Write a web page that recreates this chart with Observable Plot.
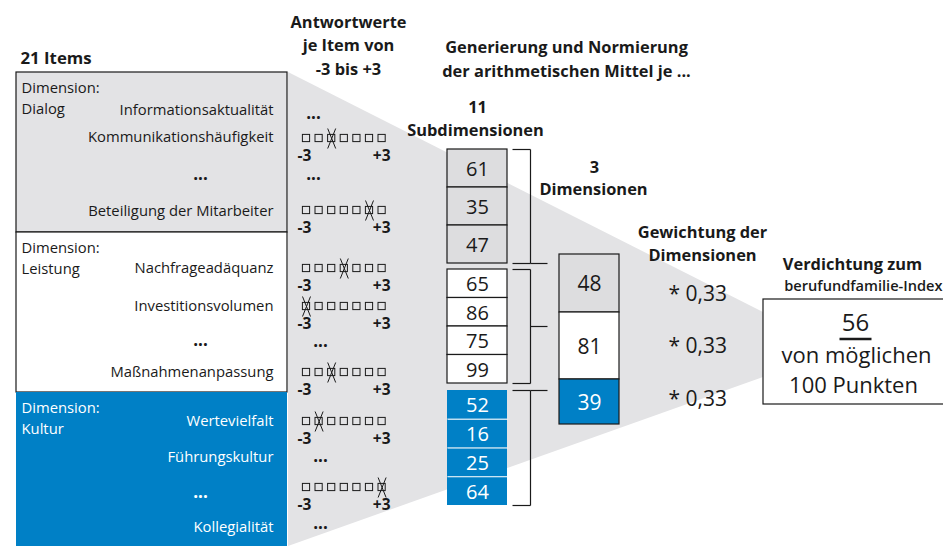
<!DOCTYPE html>
<html><head><meta charset="utf-8">
<script src="https://cdn.jsdelivr.net/npm/d3@7"></script>
<script src="https://cdn.jsdelivr.net/npm/@observablehq/plot@0.6"></script>
<style>html,body{margin:0;padding:0;background:#fff;}</style>
</head><body><div id="chart"></div>
<script>
// ---------- DATA ----------
const dimensions = ["Dialog", "Leistung", "Kultur"];
const itemLabels = [
  ["Informationsaktualität", "Kommunikationshäufigkeit", "...", "Beteiligung der Mitarbeiter"],
  ["Nachfrageadäquanz", "Investitionsvolumen", "...", "Maßnahmenanpassung"],
  ["Wertevielfalt", "Führungskultur", "...", "Kollegialität"]
];
// answers on the -3..+3 scale (null = "...")
const answers = [
  [null, -1, null, 2],
  [0, -3, null, -1],
  [-2, null, 3, null]
];
const scaleValues = [-3, -2, -1, 0, 1, 2, 3];
const subdimScores = [[61, 35, 47], [65, 86, 75, 99], [52, 16, 25, 64]];
const dimensionScores = [48, 81, 39];
const weights = ["0,33", "0,33", "0,33"];
const indexValue = 56;
const maxPoints = 100;

// ---------- LAYOUT / STYLE ----------
const W = 943, H = 546;
const BLUE = "#0080c6", GRAY = "#e3e3e5", BOXGRAY = "#dddddf", INK = "#1a1a1a";
const FONT = "Open Sans";
const HS = 16.4; // header font size
const LS = 14.8; // left panel font size
const sectFill = [GRAY, "#ffffff", BLUE];
const sectText = [INK, INK, "#ffffff"];
const sectY = [[72, 232], [232, 392], [392, 546]];
const itemY = [[110, 137, 177, 211], [268, 306, 343, 372], [421, 457, 495, 527]];
const ansY = [[117, 138, 178, 210], [268, 306, 345, 372], [421, 460, 487, 527]];
const subY = [[149, 263], [269, 383], [390, 505]];
const dimY = [[254, 312], [312, 379], [379, 424]];
const weightY = [294, 346, 399];
const tailAt = ["end", "mid", "start"];

const T = [];  // text rows
const R = [];  // rects
const L = [];  // links
function txt(x, y, s, o = {}) { T.push({x, y, s, size: 14, weight: 400, anchor: "middle", fill: INK, ...o}); }
function rect(x1, y1, x2, y2, fill, stroke = "none", sw = 1) { R.push({x1, y1, x2, y2, fill, stroke, sw}); }
function link(x1, y1, x2, y2, stroke = INK, sw = 1.2) { L.push({x1, y1, x2, y2, stroke, sw}); }

// funnel background
const funnel = [{x: 288, y1: 72, y2: 546}, {x: 763, y1: 312, y2: 377}];

// headers
txt(20, 58, "21 Items", {size: 16.8, weight: 700, anchor: "start"});
txt(348, 22, "Antwortwerte", {size: HS, weight: 700});
txt(348, 45, "je Item von", {size: HS, weight: 700});
txt(348, 69, "-3 bis +3", {size: HS, weight: 700});
txt(566, 47, "Generierung und Normierung", {size: HS, weight: 700});
txt(566, 71, "der arithmetischen Mittel je ...", {size: HS, weight: 700});
txt(477, 107, String(subdimScores.flat().length), {size: HS, weight: 700});
txt(475, 130, "Subdimensionen", {size: HS, weight: 700});
txt(594, 167, String(dimensions.length), {size: HS, weight: 700});
txt(593, 189, "Dimensionen", {size: HS, weight: 700});
txt(702, 232, "Gewichtung der", {size: HS, weight: 700});
txt(702, 255, "Dimensionen", {size: HS, weight: 700});
txt(852, 264, "Verdichtung zum", {size: HS, weight: 700});
txt(942, 286, "berufundfamilie-Index", {size: 14.6, weight: 600, anchor: "end"});

dimensions.forEach((d, k) => {
  const [a, b] = sectY[k];
  rect(16, a, 287, b, sectFill[k], k < 2 ? INK : "none", 1.2);
  txt(21, a + 16, "Dimension:", {anchor: "start", fill: sectText[k], size: LS});
  txt(21, a + 37, d, {anchor: "start", fill: sectText[k], size: LS});
  itemLabels[k].forEach((lab, i) => {
    if (lab === "...") txt(200, itemY[k][i] - 3, "...", {fill: sectText[k], size: 17, weight: 700});
    else txt(273, itemY[k][i], lab, {anchor: "end", fill: sectText[k], size: LS});
  });
  // answer scales
  answers[k].forEach((v, i) => {
    const y = ansY[k][i];
    if (v === null) { txt(k === 0 ? 313 : 320, y - 4, "...", {size: 17, weight: 700}); return; }
    scaleValues.forEach((s, j) => {
      const cx = 306 + j * 12.6;
      rect(cx - 3.6, y - 3.6, cx + 3.6, y + 3.6, "none", INK, 1);
      if (s === v) { link(cx - 4, y - 10, cx + 4, y + 10, INK, 1); link(cx + 4, y - 10, cx - 4, y + 10, INK, 1); }
    });
    txt(297, y + 18, String(scaleValues[0]), {anchor: "start", size: 15.5, weight: 700});
    txt(390, y + 18, "+" + scaleValues[6], {anchor: "end", size: 15.5, weight: 700});
  });
  // subdimension boxes
  const [s1, s2] = subY[k];
  const n = subdimScores[k].length, h = (s2 - s1) / n;
  subdimScores[k].forEach((v, i) => {
    const y1 = s1 + i * h, y2 = y1 + h;
    if (k === 2) rect(447, y1, 507, y2, BLUE);
    else rect(447, y1, 507, y2, k === 0 ? BOXGRAY : "#ffffff", INK, 1.2);
    if (k === 2 && i > 0) link(447, y1, 507, y1, "#ffffff", 1.2);
    txt(477, y1 + h / 2 + 1, String(v), {size: 20, fill: k === 2 ? "#fff" : INK});
  });
  // bracket
  link(512, s1, 530, s1); link(530, s1, 530, s2); link(512, s2, 530, s2);
  const ty = tailAt[k] === "end" ? s2 : tailAt[k] === "mid" ? (s1 + s2) / 2 : s1;
  link(530, ty, 547, ty);
  // dimension box
  const [d1, d2] = dimY[k];
  rect(559, d1, 619, d2, sectFill[k] === GRAY ? BOXGRAY : sectFill[k], INK, 1.2);
  txt(589, (d1 + d2) / 2 + 1, String(dimensionScores[k]), {size: 21, fill: sectText[k]});
  txt(668, weightY[k], "* " + weights[k], {size: 21, anchor: "start"});
});

// index box
rect(763, 299, 960, 404, "#ffffff", INK, 1.2);
txt(855, 323, String(indexValue), {size: 24});
link(839, 338.5, 871, 338.5, INK, 2.6);
txt(856, 355, "von möglichen", {size: 22});
txt(853, 385, maxPoints + " Punkten", {size: 22});

const chart = Plot.plot({
  width: W, height: H, margin: 0,
  x: {domain: [0, W], range: [0, W], axis: null},
  y: {domain: [0, H], range: [0, H], axis: null},
  style: {fontFamily: FONT, background: "#fff"},
  marks: [
    Plot.areaY(funnel, {x: "x", y1: "y1", y2: "y2", fill: GRAY, curve: "linear"}),
    Plot.rect(R, {x1: "x1", x2: "x2", y1: "y1", y2: "y2", fill: d => d.fill, stroke: d => d.stroke, strokeWidth: d => d.sw}),
    Plot.link(L, {x1: "x1", y1: "y1", x2: "x2", y2: "y2", stroke: d => d.stroke, strokeWidth: d => d.sw}),
    ...T.map(t => Plot.text([t], {x: "x", y: "y", text: "s", fontSize: t.size, fontWeight: t.weight, textAnchor: t.anchor, fill: t.fill}))
  ]
});
document.getElementById("chart").appendChild(chart);
</script></body></html>
